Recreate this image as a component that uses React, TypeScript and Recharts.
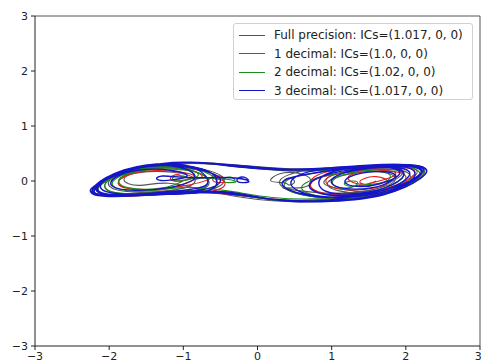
import { LineChart, Line, XAxis, YAxis, ReferenceLine } from "recharts";

// trajectories as [x, y] pairs
const fullPts = [
  [0.35, -0.02], [0.4, 0.05], [0.48, 0.03], [0.49, -0.04], [0.42, -0.07], [0.35, -0.03],
  [0.18, 0.0], [0.3, 0.13], [0.55, 0.14], [0.72, 0.02], [0.6, -0.12], [0.35, -0.13],
  [0.9, -0.22], [1.5, -0.17], [1.85, 0.0], [1.7, 0.16], [1.25, 0.13], [0.95, -0.02], [1.1, -0.18],
  [1.6, -0.2], [2.0, -0.02], [2.15, 0.18], [1.85, 0.27], [1.2, 0.22], [0.5, 0.18], [-0.3, 0.27],
  [-0.9, 0.33], [-1.6, 0.22], [-2.1, -0.05], [-2.2, -0.22], [-1.85, -0.28], [-1.2, -0.23],
  [-0.7, -0.12], [-0.75, 0.12], [-1.2, 0.24], [-1.7, 0.18], [-2.0, 0.0], [-1.9, -0.16],
  [-1.5, -0.2], [-1.0, -0.13], [-0.85, 0.04], [-1.15, 0.16], [-1.6, 0.15], [-1.8, 0.02],
  [-1.6, -0.08], [-1.2, -0.04], [-0.6, -0.2], [0.2, -0.36], [1.0, -0.36], [1.75, -0.22],
  [2.2, 0.05], [2.26, 0.23], [1.95, 0.3], [1.3, 0.26], [0.7, 0.2], [0.3, 0.0], [0.6, -0.25],
  [1.3, -0.3], [1.9, -0.12], [2.05, 0.12], [1.7, 0.22], [1.1, 0.14], [0.9, -0.05], [1.15, -0.15],
  [1.5, -0.18], [1.85, 0.02], [1.95, 0.2], [1.6, 0.27], [0.9, 0.22], [0.1, 0.25], [-0.7, 0.33],
  [-1.4, 0.27], [-2.05, 0.02], [-2.22, -0.2], [-1.9, -0.27], [-1.2, -0.22], [-0.65, -0.16],
  [-0.45, 0.02], [-0.7, 0.2], [-1.3, 0.26], [-1.9, 0.1], [-2.05, -0.14], [-1.7, -0.23],
  [-1.0, -0.18], [-0.3, -0.25], [0.5, -0.37], [1.2, -0.34], [1.85, -0.17], [2.22, 0.1],
  [2.15, 0.27], [1.6, 0.28], [1.0, 0.2],
];

const dec1Pts = [
  [-0.45, 0.04], [-0.5, 0.09], [-0.58, 0.07], [-0.6, 0.01], [-0.52, -0.03], [-0.45, 0.0],
  [-0.7, 0.06], [-1.0, 0.07], [-1.05, 0.11], [-1.15, 0.09], [-1.17, 0.03], [-1.08, 0.0],
  [-0.85, 0.08], [-1.1, 0.17], [-1.55, 0.17], [-1.85, 0.03], [-1.8, -0.12], [-1.4, -0.15], [-0.95, -0.08],
  [-0.6, 0.1], [-0.95, 0.27], [-1.5, 0.24], [-2.05, 0.0], [-2.15, -0.2], [-1.8, -0.26], [-1.1, -0.21],
  [-0.4, -0.24], [0.3, -0.34], [1.0, -0.32], [1.7, -0.15], [2.1, 0.1], [2.0, 0.24], [1.5, 0.22],
  [1.0, 0.1], [0.95, -0.07], [1.2, -0.16], [1.6, -0.12], [1.75, 0.0],
  [1.6, 0.08], [1.45, 0.05], [1.38, -0.02], [1.45, -0.06], [1.55, -0.03],
  [1.85, 0.1], [1.7, 0.2], [1.2, 0.16], [0.75, 0.0], [0.85, -0.22], [1.4, -0.27], [1.95, -0.08],
  [2.2, 0.14], [2.1, 0.27], [1.5, 0.27], [0.7, 0.2], [-0.1, 0.26], [-0.8, 0.32], [-1.5, 0.25],
  [-2.05, 0.0], [-2.2, -0.2], [-1.9, -0.28], [-1.2, -0.24], [-0.6, -0.18], [-0.45, 0.0],
  [-0.8, 0.2], [-1.4, 0.22], [-1.85, 0.05], [-1.7, -0.15], [-1.2, -0.14], [-0.9, 0.0],
  [-0.75, 0.1], [-1.1, 0.25], [-1.7, 0.2], [-2.1, -0.05], [-2.05, -0.25], [-1.4, -0.24],
  [-0.7, -0.18], [0.0, -0.3], [0.7, -0.36], [1.4, -0.3], [2.0, -0.05], [2.22, 0.18],
  [1.95, 0.28], [1.3, 0.24], [0.8, 0.1], [0.75, -0.15], [1.2, -0.25], [1.8, -0.12],
  [2.0, 0.08], [1.75, 0.18], [1.3, 0.13], [1.25, 0.0], [1.45, -0.06], [1.6, 0.0],
];

const dec2Pts = [
  [-0.3, 0.02], [-0.36, 0.07], [-0.44, 0.05], [-0.45, -0.01], [-0.37, -0.03], [-0.3, 0.0],
  [-0.6, 0.05], [-0.9, 0.05], [-1.0, 0.09], [-1.12, 0.08], [-1.14, 0.03], [-1.03, 0.0],
  [-0.8, 0.1], [-1.0, 0.22], [-1.5, 0.22], [-1.9, 0.05], [-1.9, -0.13], [-1.5, -0.18], [-1.0, -0.12],
  [-0.4, -0.18], [0.2, -0.3], [0.9, -0.32], [1.55, -0.2], [1.95, 0.05], [1.85, 0.2], [1.4, 0.18],
  [1.05, 0.05], [1.05, -0.1], [1.25, -0.12],
  [1.35, -0.04], [1.3, 0.0], [1.2, -0.02], [1.18, -0.07], [1.28, -0.1], [1.38, -0.08],
  [1.7, -0.02], [1.75, 0.14], [1.3, 0.17], [0.8, 0.05], [0.6, -0.15], [1.0, -0.3], [1.7, -0.22],
  [2.15, 0.05], [2.2, 0.22], [1.8, 0.29], [1.1, 0.24], [0.4, 0.2], [-0.4, 0.28], [-1.0, 0.33],
  [-1.7, 0.2], [-2.18, -0.12], [-2.0, -0.27], [-1.3, -0.23], [-0.7, -0.18], [-0.55, 0.0],
  [-0.85, 0.22], [-1.45, 0.24], [-2.0, 0.02], [-1.95, -0.2], [-1.4, -0.22], [-0.6, -0.2],
  [0.2, -0.34], [0.9, -0.35], [1.6, -0.24], [2.15, 0.02], [2.22, 0.2], [1.9, 0.28], [1.3, 0.25],
  [0.8, 0.15], [0.45, 0.05], [0.4, -0.15], [0.9, -0.3], [1.6, -0.25], [2.1, 0.0], [2.15, 0.2],
  [1.75, 0.27], [1.05, 0.2], [0.3, 0.22], [-0.5, 0.3], [-1.2, 0.3], [-1.85, 0.12], [-2.15, -0.15],
  [-1.9, -0.26], [-1.25, -0.21], [-0.75, -0.14], [-0.7, 0.08], [-1.0, 0.2], [-1.5, 0.2],
  [-1.85, 0.05], [-1.75, -0.12], [-1.3, -0.13], [-1.0, 0.0],
];

const dec3Pts = [
  [-0.12, 0.02], [-0.18, 0.07], [-0.26, 0.05], [-0.27, -0.01], [-0.19, -0.03], [-0.12, 0.0],
  [-0.35, 0.06], [-0.8, 0.06], [-1.15, 0.08], [-1.28, 0.09], [-1.36, 0.05], [-1.3, 0.01], [-1.15, 0.02],
  [-0.95, 0.09], [-1.15, 0.19], [-1.6, 0.2], [-1.92, 0.06], [-1.95, -0.1], [-1.65, -0.17], [-1.2, -0.12],
  [-0.85, 0.05], [-1.05, 0.25], [-1.55, 0.25], [-2.02, 0.04], [-2.15, -0.17], [-1.85, -0.25], [-1.25, -0.2],
  [-0.7, -0.08], [-0.8, 0.2], [-1.2, 0.32], [-1.8, 0.2], [-2.2, -0.1], [-2.1, -0.25], [-1.5, -0.25], [-0.8, -0.2],
  [-0.2, -0.26], [0.4, -0.36], [1.0, -0.34], [1.6, -0.2], [2.1, 0.02], [2.2, 0.2], [1.95, 0.27],
  [1.4, 0.23], [0.9, 0.1], [0.7, -0.1], [1.0, -0.26], [1.6, -0.2], [1.95, -0.02],
  [2.05, 0.16], [1.8, 0.25], [1.3, 0.19], [1.0, 0.02], [1.15, -0.13], [1.55, -0.12], [1.8, 0.0],
  [1.85, 0.12], [1.6, 0.17], [1.25, 0.08], [1.2, -0.05], [1.4, -0.1], [1.65, -0.05],
  [1.9, 0.1], [1.8, 0.24], [1.3, 0.24], [0.75, 0.14], [0.35, 0.0], [0.5, -0.2], [1.1, -0.3],
  [1.8, -0.16], [2.15, 0.08], [2.2, 0.25],
  [1.7, 0.3], [1.0, 0.24], [0.3, 0.22], [-0.5, 0.3], [-1.1, 0.33], [-1.8, 0.18], [-2.22, -0.15],
  [-2.05, -0.27], [-1.4, -0.24], [-0.75, -0.16], [-0.5, 0.0], [-0.7, 0.18], [-1.3, 0.28],
  [-1.95, 0.1], [-2.1, -0.15], [-1.7, -0.24], [-1.0, -0.2], [-0.4, -0.2],
  [0.3, -0.35], [1.0, -0.37], [1.7, -0.25], [2.2, 0.05], [2.25, 0.24], [1.9, 0.3], [1.2, 0.26],
  [0.6, 0.2], [-0.2, 0.25], [-0.9, 0.34], [-1.6, 0.24], [-2.15, -0.05], [-2.25, -0.2],
  [-2.05, -0.28], [-1.35, -0.25], [-0.7, -0.19], [-0.55, 0.02], [-0.75, 0.22], [-1.35, 0.3],
  [-1.95, 0.12], [-2.18, -0.12], [-1.95, -0.26], [-1.2, -0.22], [-0.5, -0.22], [0.2, -0.33],
  [0.9, -0.36], [1.6, -0.26], [2.1, 0.0], [2.2, 0.22], [1.9, 0.29], [1.25, 0.25], [0.7, 0.17],
  [0.45, -0.05], [0.8, -0.27], [1.5, -0.25], [2.0, -0.05], [2.12, 0.16], [1.85, 0.27], [1.2, 0.22],
  [0.85, 0.05], [0.95, -0.2], [1.5, -0.2], [1.9, 0.0], [1.95, 0.18], [1.6, 0.25], [0.9, 0.22],
  [0.2, 0.23], [-0.6, 0.32], [-1.2, 0.33], [-1.85, 0.16], [-2.2, -0.17], [-1.98, -0.27],
  [-1.3, -0.24], [-0.8, -0.2],
];

const ticks = [-3, -2, -1, 0, 1, 2, 3];

const series = [
  { name: "Full precision: ICs=(1.017, 0, 0)", pts: fullPts, color: "#555555", width: 1.1 },
  { name: "1 decimal: ICs=(1.0, 0, 0)", pts: dec1Pts, color: "#e02020", width: 1.1 },
  { name: "2 decimal: ICs=(1.02, 0, 0)", pts: dec2Pts, color: "#1c8a1c", width: 1.1 },
  { name: "3 decimal: ICs=(1.017, 0, 0)", pts: dec3Pts, color: "#1414c8", width: 1.4 },
];

const toData = (a: number[][]) => a.map(([x, y]) => ({ x, y }));

const fmt = (v: number) => (v < 0 ? "\u2212" + Math.abs(v) : String(v));

function LegendBox() {
  return (
    <div
      style={{
        position: "absolute",
        left: 233,
        top: 23,
        width: 240,
        height: 77,
        boxSizing: "border-box",
        background: "#fff",
        border: "1px solid #d0d0d0",
        borderRadius: 3,
        fontFamily: "DejaVu Sans",
        fontSize: 12,
        color: "#222",
        paddingTop: 2,
      }}
    >
      {series.map((s) => (
        <div key={s.name} style={{ display: "flex", alignItems: "center", height: 18.5 }}>
          <span style={{ display: "inline-block", width: 26, height: 1, background: s.color, marginLeft: 5, marginRight: 9 }} />
          <span>{s.name}</span>
        </div>
      ))}
    </div>
  );
}

export default function App() {
  const axisTick = { fontFamily: "DejaVu Sans", fontSize: 11, fill: "#222" };
  return (
    <div style={{ position: "absolute", left: 0, top: 0, width: 481, height: 363, background: "#fff" }}>
      <LineChart width={481} height={363} margin={{ top: 16, right: 1, bottom: 0, left: 0 }}>
        <XAxis
          type="number"
          dataKey="x"
          domain={[-3, 3]}
          ticks={ticks}
          tickFormatter={fmt}
          tick={axisTick}
          tickSize={4}
          tickMargin={2}
          height={17}
          stroke="#222"
          allowDataOverflow
        />
        <YAxis
          type="number"
          dataKey="y"
          domain={[-3, 3]}
          ticks={ticks}
          tickFormatter={fmt}
          tick={axisTick}
          tickSize={4}
          tickMargin={3}
          width={35}
          stroke="#222"
          allowDataOverflow
        />
        <ReferenceLine y={3} stroke="#555" />
        <ReferenceLine x={3} stroke="#555" />
        {series.map((s) => (
          <Line
            key={s.name}
            data={toData(s.pts)}
            dataKey="y"
            name={s.name}
            type="natural"
            stroke={s.color}
            strokeWidth={s.width}
            dot={false}
            isAnimationActive={false}
          />
        ))}
      </LineChart>
      <LegendBox />
    </div>
  );
}
